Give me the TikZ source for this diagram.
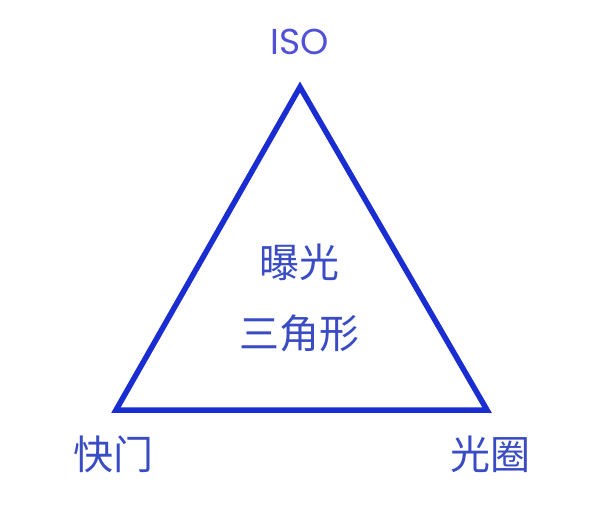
\documentclass[tikz,border=0pt]{standalone}
\usepackage{fontspec}
\newfontfamily\cjk{Noto Sans CJK SC}
\newfontfamily\latinsans{Poppins}
\definecolor{triblue}{HTML}{1A2DD0}
\definecolor{txtblue}{HTML}{3A4CC4}
\definecolor{isoblue}{HTML}{5050D8}
\begin{document}
\begin{tikzpicture}[x=1pt,y=-1pt,
  lbl/.style={text=txtblue,font=\cjk\fontsize{40}{42}\selectfont,inner sep=0pt,anchor=center},
  isolbl/.style={text=isoblue,font=\latinsans\fontsize{36}{38}\selectfont,inner sep=0pt,anchor=center}]
\useasboundingbox (0,0) rectangle (600,504);
\fill[white] (0,0) rectangle (600,504);
\coordinate (A) at (300,87);
\coordinate (B) at (116,410);
\coordinate (C) at (487,410);
\draw[triblue,line width=5.5pt,line join=miter] (A) -- (B) -- (C) -- cycle;
\node[isolbl] (iso) at (300,42) {ISO};
\node[lbl] (t1) at (299,262) {曝光};
\node[lbl] (t2) at (299,333) {三角形};
\node[lbl] (shutter) at (113,454) {快门};
\node[lbl] (aperture) at (490,454) {光圈};
\end{tikzpicture}
\end{document}
